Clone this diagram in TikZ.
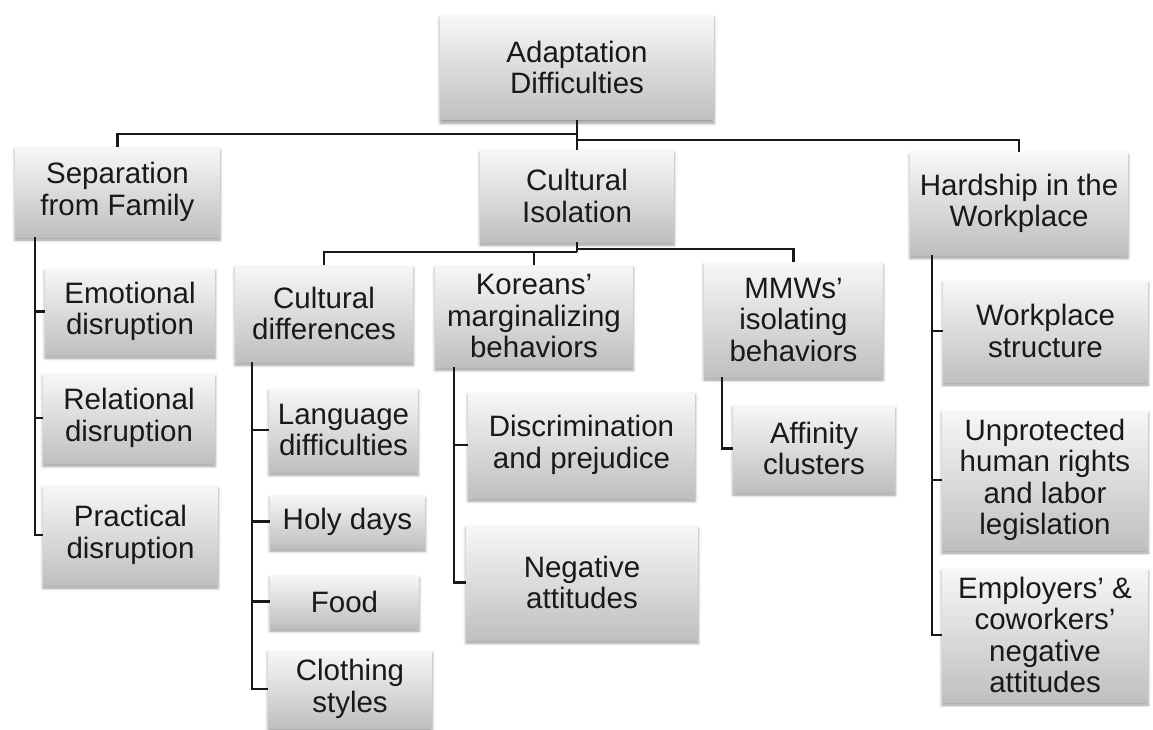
\documentclass[tikz,border=0pt]{standalone}
\usepackage{fontspec}
\setmainfont{Liberation Sans}
\usetikzlibrary{shadows.blur}
\newcommand\boxfont{\fontsize{29.5}{31.5}\selectfont}
\tikzset{
  box/.style={rectangle, inner sep=0pt, align=center, font=\boxfont,
    text=black!90, top color=white!97!black, bottom color=black!25, draw=none,
    blur shadow={shadow xshift=0pt, shadow yshift=-3pt, shadow blur radius=3pt, shadow opacity=40}},
  conn/.style={draw=black!90, line width=2.4pt}
}
\newcommand\mkbox[6]{\node[box, minimum width={(#4-#2)*1pt}, minimum height={(#5-#3)*1pt}] (#1) at ({(#2+#4)/2},{(#3+#5)/2}) {#6};}
\begin{document}
\begin{tikzpicture}[x=1pt,y=-1pt]
\useasboundingbox (0,0) rectangle (1153,730);
\mkbox{A}{440}{15}{714}{120}{Adaptation\\Difficulties}
\mkbox{Sep}{15}{147}{220}{237}{Separation\\from Family}
\mkbox{CI}{480}{150}{674}{242}{Cultural\\Isolation}
\mkbox{Hard}{910}{152}{1128}{255}{Hardship in the\\Workplace}
\mkbox{Emo}{45}{268}{215}{355}{Emotional\\disruption}
\mkbox{Rel}{43}{373}{215}{463}{Relational\\disruption}
\mkbox{Prac}{43}{485}{218}{585}{Practical\\disruption}
\mkbox{CD}{235}{265}{413}{362}{Cultural\\differences}
\mkbox{Kor}{435}{265}{633}{367}{Koreans’\\marginalizing\\behaviors}
\mkbox{MMW}{704}{262}{883}{377}{MMWs’\\isolating\\behaviors}
\mkbox{Lang}{269}{388}{418}{472}{Language\\difficulties}
\mkbox{Holy}{270}{495}{425}{548}{Holy days}
\mkbox{Food}{270}{575}{419}{628}{Food}
\mkbox{Cloth}{268}{650}{432}{728}{Clothing\\styles}
\mkbox{Disc}{468}{392}{695}{498}{Discrimination\\and prejudice}
\mkbox{Neg}{466}{525}{698}{640}{Negative\\attitudes}
\mkbox{Aff}{733}{405}{895}{492}{Affinity\\clusters}
\mkbox{Work}{943}{280}{1148}{382}{Workplace\\structure}
\mkbox{Unp}{942}{410}{1148}{550}{Unprotected\\human rights\\and labor\\legislation}
\mkbox{Emp}{942}{568}{1148}{702}{Employers’ \&\\coworkers’\\negative\\attitudes}
% top level
\draw[conn] (A.south) -- (CI.north);
\draw[conn] ([yshift=-14pt]A.south) -| (Sep.north);
\draw[conn] ([yshift=-20pt]A.south) -| (Hard.north);
% cultural isolation
\draw[conn] (CI.south) -- ([yshift=-10pt]CI.south);
\draw[conn] ([yshift=-10pt]CI.south) -| (CD.north);
\draw[conn] ([yshift=-10pt]CI.south) -| (Kor.north);
\draw[conn] ([yshift=-7pt]CI.south) -| (MMW.north);
% separation children
\draw[conn] ([xshift=20pt]Sep.south west) |- (Emo.west);
\draw[conn] ([xshift=20pt]Sep.south west) |- (Rel.west);
\draw[conn] ([xshift=20pt]Sep.south west) |- (Prac.west);
% cultural differences children
\draw[conn] ([xshift=17pt]CD.south west) |- (Lang.west);
\draw[conn] ([xshift=17pt]CD.south west) |- (Holy.west);
\draw[conn] ([xshift=17pt]CD.south west) |- (Food.west);
\draw[conn] ([xshift=17pt]CD.south west) |- (Cloth.west);
% koreans children
\draw[conn] ([xshift=19pt]Kor.south west) |- (Disc.west);
\draw[conn] ([xshift=19pt]Kor.south west) |- (Neg.west);
% MMW children
\draw[conn] ([xshift=18pt]MMW.south west) |- (Aff.west);
% hardship children
\draw[conn] ([xshift=22pt]Hard.south west) |- (Work.west);
\draw[conn] ([xshift=22pt]Hard.south west) |- (Unp.west);
\draw[conn] ([xshift=22pt]Hard.south west) |- (Emp.west);
\end{tikzpicture}
\end{document}
